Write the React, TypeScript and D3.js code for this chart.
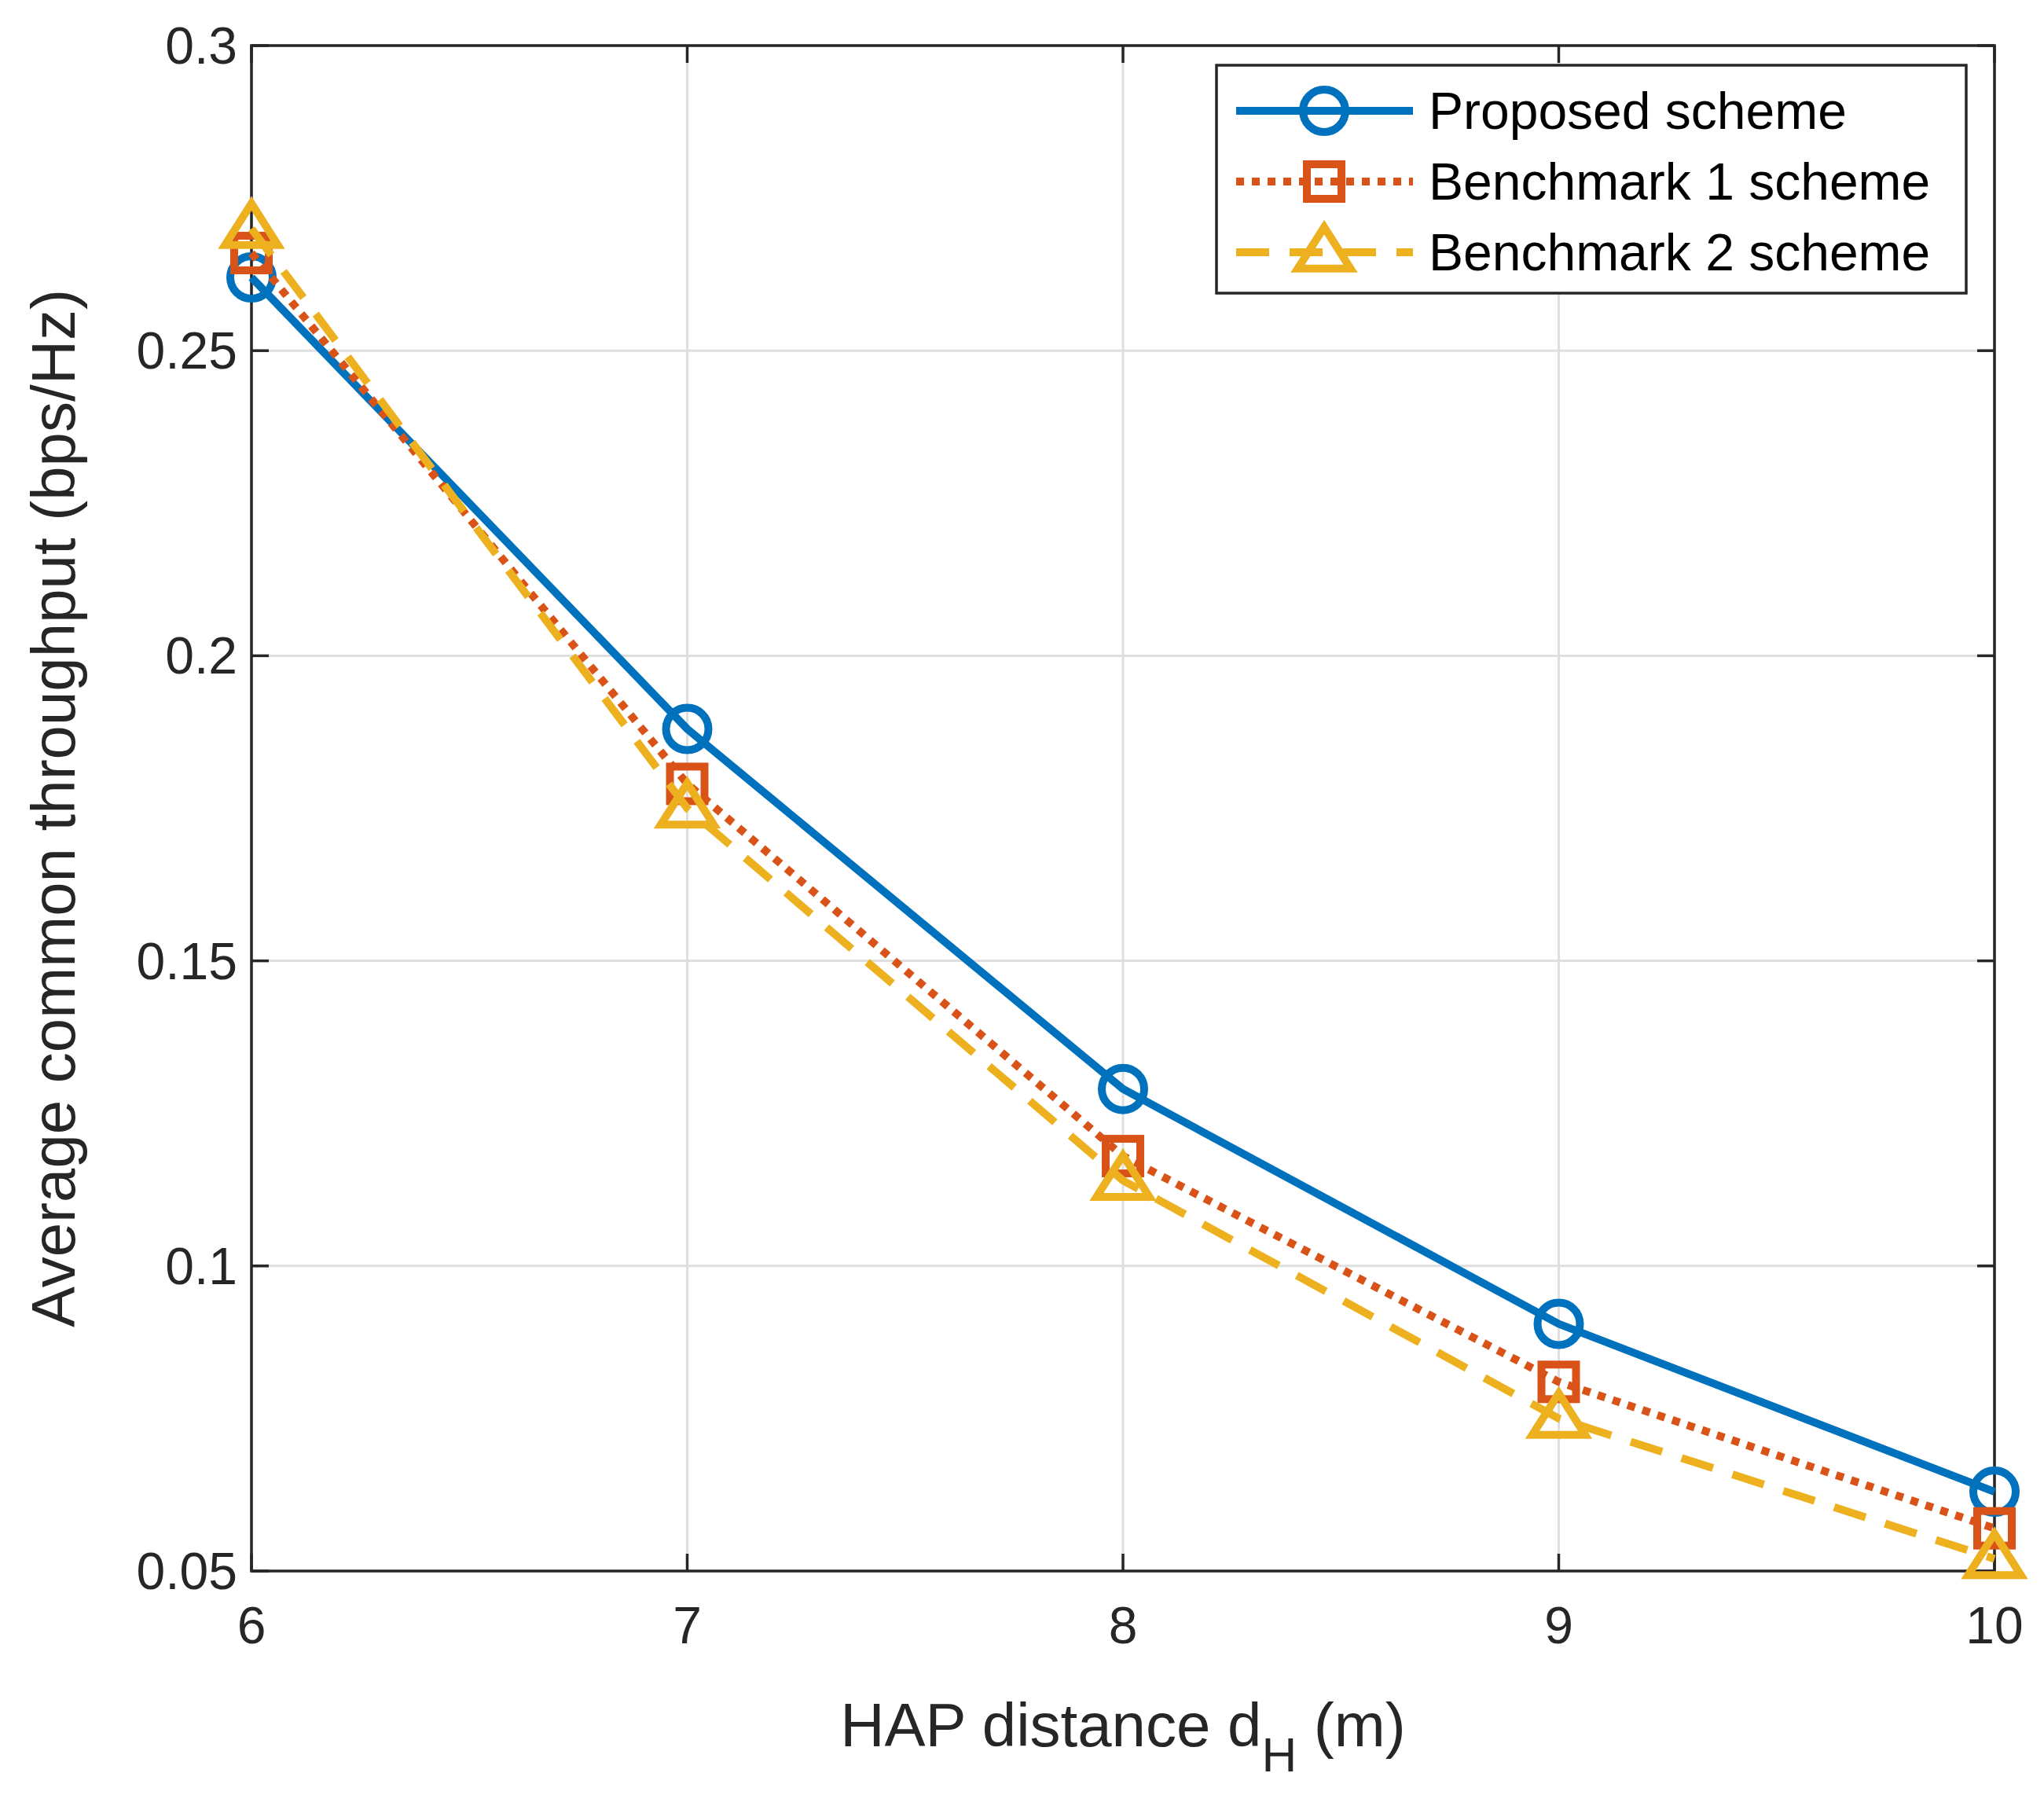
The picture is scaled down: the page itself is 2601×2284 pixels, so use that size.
import * as d3 from "d3";

const distances = [6, 7, 8, 9, 10];
const proposed = [0.262, 0.188, 0.129, 0.0905, 0.063];
const bench1 = [0.266, 0.179, 0.118, 0.081, 0.057];
const bench2 = [0.27, 0.175, 0.114, 0.075, 0.052];
const yTicks = [0.05, 0.1, 0.15, 0.2, 0.25, 0.3];
const yTickLabels = ["0.05", "0.1", "0.15", "0.2", "0.25", "0.3"];

const series = [
  { name: "Proposed scheme", values: proposed, color: "#0072BD", dash: "none", marker: "circle" },
  { name: "Benchmark 1 scheme", values: bench1, color: "#D95319", dash: "10 10", marker: "square" },
  { name: "Benchmark 2 scheme", values: bench2, color: "#EDB120", dash: "42 26", marker: "triangle" },
];

const W = 2601;
const H = 2284;
const m = { left: 320, right: 2538, top: 58, bottom: 1999 };
const font = "'Liberation Sans', Arial, sans-serif";

function Marker({ type, x, y, color }: { type: string; x: number; y: number; color: string }) {
  if (type === "circle") return <circle cx={x} cy={y} r={27} fill="none" stroke={color} strokeWidth={10} />;
  if (type === "square") return <rect x={x - 22} y={y - 22} width={44} height={44} fill="none" stroke={color} strokeWidth={10} />;
  const r = 32;
  return (
    <path
      d={`M${x},${y - r}L${x + r * 1.05},${y + r * 0.65}L${x - r * 1.05},${y + r * 0.65}Z`}
      fill="none"
      stroke={color}
      strokeWidth={10}
      strokeLinejoin="miter"
    />
  );
}

export default function App() {
  const x = d3.scaleLinear().domain([6, 10]).range([m.left, m.right]);
  const y = d3.scaleLinear().domain([0.05, 0.3]).range([m.bottom, m.top]);
  const line = d3.line<number>().x((_, i) => x(distances[i])).y((d) => y(d));
  const lx = 1548, ly = 83, lw = 954, lh = 290;

  return (
    <svg width={W} height={H} style={{ position: "absolute", left: 0, top: 0, background: "#fff" }} fontFamily={font}>
      <rect width={W} height={H} fill="#fff" />
      {distances.map((d) => (
        <line key={"gx" + d} x1={x(d)} x2={x(d)} y1={m.top} y2={m.bottom} stroke="#dfdfdf" strokeWidth={3} />
      ))}
      {yTicks.map((t) => (
        <line key={"gy" + t} x1={m.left} x2={m.right} y1={y(t)} y2={y(t)} stroke="#dfdfdf" strokeWidth={3} />
      ))}
      <rect x={m.left} y={m.top} width={m.right - m.left} height={m.bottom - m.top} fill="none" stroke="#262626" strokeWidth={3.5} />
      {distances.map((d) => (
        <g key={"tx" + d}>
          <line x1={x(d)} x2={x(d)} y1={m.bottom} y2={m.bottom - 22} stroke="#262626" strokeWidth={3.5} />
          <line x1={x(d)} x2={x(d)} y1={m.top} y2={m.top + 22} stroke="#262626" strokeWidth={3.5} />
          <text x={x(d)} y={m.bottom + 92} textAnchor="middle" fontSize={66} fill="#262626">{d}</text>
        </g>
      ))}
      {yTicks.map((t, i) => (
        <g key={"ty" + t}>
          <line x1={m.left} x2={m.left + 22} y1={y(t)} y2={y(t)} stroke="#262626" strokeWidth={3.5} />
          <line x1={m.right} x2={m.right - 22} y1={y(t)} y2={y(t)} stroke="#262626" strokeWidth={3.5} />
          <text x={m.left - 18} y={y(t) + 23} textAnchor="end" fontSize={66} fill="#262626">{yTickLabels[i]}</text>
        </g>
      ))}
      <text x={(m.left + m.right) / 2} y={2222} textAnchor="middle" fontSize={78} fill="#262626">
        HAP distance d<tspan fontSize={62} dy={32}>H</tspan><tspan dy={-32}> (m)</tspan>
      </text>
      <text transform={`translate(95,${(m.top + m.bottom) / 2}) rotate(-90)`} textAnchor="middle" fontSize={78} fill="#262626">
        Average common throughput (bps/Hz)
      </text>
      {series.map((s) => (
        <g key={s.name}>
          <path d={line(s.values) ?? ""} fill="none" stroke={s.color} strokeWidth={10} strokeDasharray={s.dash} />
          {s.values.map((v, i) => (
            <Marker key={i} type={s.marker} x={x(distances[i])} y={y(v)} color={s.color} />
          ))}
        </g>
      ))}
      <rect x={lx} y={ly} width={lw} height={lh} fill="#fff" stroke="#262626" strokeWidth={3.5} />
      {series.map((s, i) => {
        const cy = ly + 58 + i * 90;
        return (
          <g key={"lg" + s.name}>
            <line x1={lx + 25} x2={lx + 250} y1={cy} y2={cy} stroke={s.color} strokeWidth={10} strokeDasharray={s.dash} />
            <Marker type={s.marker} x={lx + 137} y={cy} color={s.color} />
            <text x={lx + 270} y={cy + 23} fontSize={66} fill="#000">{s.name}</text>
          </g>
        );
      })}
    </svg>
  );
}
